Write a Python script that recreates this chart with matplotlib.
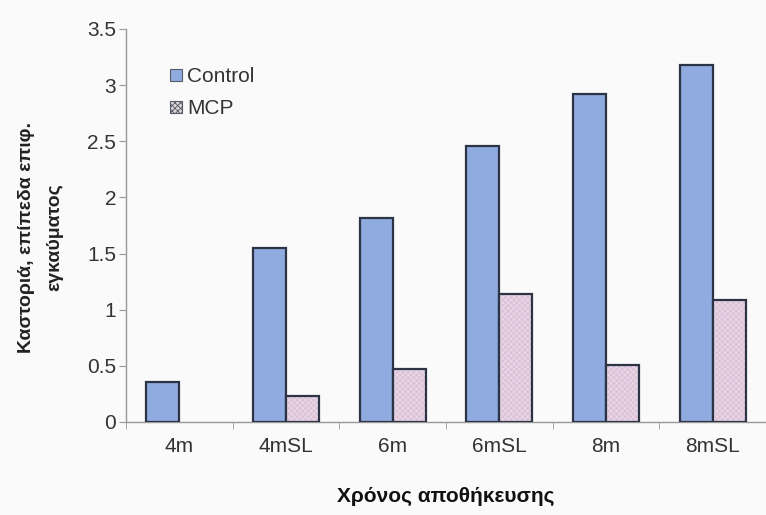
import matplotlib.pyplot as plt
import numpy as np

plt.rcParams['font.family'] = ['Liberation Sans', 'DejaVu Sans']
plt.rcParams['hatch.linewidth'] = 0.6

categories = ['4m', '4mSL', '6m', '6mSL', '8m', '8mSL']
control = [0.36, 1.55, 1.82, 2.46, 2.92, 3.18]
mcp = [0.0, 0.23, 0.47, 1.14, 0.51, 1.09]
yticks = [0, 0.5, 1, 1.5, 2, 2.5, 3, 3.5]
ytick_labels = ['0', '0.5', '1', '1.5', '2', '2.5', '3', '3.5']

blue = '#8fabe0'
pink = '#dcc2d8'
edge = '#2b3344'

fig = plt.figure(figsize=(7.66, 5.15), dpi=100)
fig.patch.set_facecolor('#fafafa')
ax = fig.add_axes([0.1645, 0.1806, 0.8355, 0.7631])
ax.set_facecolor('#fafafa')

x = np.arange(len(categories))
w = 0.31
ax.bar(x - w / 2, control, w, color=blue, edgecolor=edge, linewidth=1.6,
       label='Control', zorder=3)

# MCP bars: no bar is drawn where the value is zero
mx = np.array([xi for xi, v in zip(x, mcp) if v > 0])
mv = [v for v in mcp if v > 0]
ax.bar(mx + w / 2, mv, w, color=pink, edgecolor='#eadbe8', linewidth=0,
       hatch='xxxxxx', zorder=3)
ax.bar(mx + w / 2, mv, w, color='none', edgecolor=edge, linewidth=1.6,
       zorder=4)

# legend proxies
h1 = plt.Rectangle((0, 0), 1, 1, facecolor=blue, edgecolor='#555a66', linewidth=0.8)
h2 = plt.Rectangle((0, 0), 1, 1, facecolor='#ddd3da', edgecolor='#555a66',
                   linewidth=0.8, hatch='xxxxxx')
ax.legend([h1, h2], ['Control', 'MCP'], loc='upper left',
          bbox_to_anchor=(0.04, 0.95), frameon=False, fontsize=15,
          handlelength=0.55, handleheight=0.55, handletextpad=0.25,
          labelspacing=0.62, labelcolor='#333333')

ax.set_xlim(-0.5, 5.5)
ax.set_ylim(0, 3.5)
ax.set_yticks(yticks)
ax.set_yticklabels(ytick_labels)
ax.set_xticks(x)
ax.set_xticklabels(categories)
ax.set_xticks(np.arange(-0.5, 6, 1), minor=True)
ax.tick_params(axis='x', which='major', length=0, pad=11, labelsize=15,
               labelcolor='#333333')
ax.tick_params(axis='x', which='minor', length=5, color='#999999', direction='out')
ax.tick_params(axis='y', length=5, color='#999999', labelsize=15,
               labelcolor='#333333', pad=2)

for s in ['top', 'right']:
    ax.spines[s].set_visible(False)
for s in ['left', 'bottom']:
    ax.spines[s].set_color('#999999')
    ax.spines[s].set_linewidth(1.0)

ax.set_xlabel('Χρόνος αποθήκευσης', fontsize=15, fontweight='bold',
              color='#111111', labelpad=22)
ax.set_ylabel('Καστοριά, επίπεδα επιφ.\nεγκαύματος', fontsize=14,
              fontweight='bold', color='#222222', linespacing=1.9,
              va='center', ha='center')
ax.yaxis.set_label_coords(-0.133, 0.47)

fig.savefig('out.png', dpi=100, facecolor=fig.get_facecolor())
